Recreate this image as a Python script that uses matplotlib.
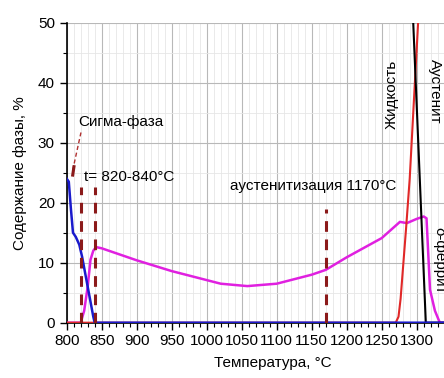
import matplotlib
matplotlib.use('Agg')
from matplotlib import pyplot as plt
from matplotlib.ticker import MultipleLocator

plt.rcParams['font.family'] = ['Liberation Sans', 'DejaVu Sans']
plt.rcParams['font.size'] = 11

# сигма-фаза
t_sigma = [800, 803, 806, 809, 813, 818, 822, 826, 830, 834, 838, 840, 1400]
sigma = [24, 23.5, 19, 15, 14.3, 13, 11, 8.5, 6, 3.5, 1, 0, 0]

# дельта-феррит
t_ferr = [800, 820, 825, 830, 834, 838, 842, 850, 875, 900, 950, 1000, 1020, 1058, 1100,
          1150, 1170, 1200, 1250, 1276, 1286, 1300, 1310, 1314, 1319, 1326, 1333, 1400]
ferr = [0, 0, 2, 6, 10.5, 12, 12.6, 12.4, 11.4, 10.4, 8.6, 7.1, 6.5, 6.1, 6.5,
        8.0, 8.8, 10.9, 14.1, 16.8, 16.6, 17.3, 17.7, 17.4, 5.5, 2, 0, 0]

# жидкость
t_liq = [800, 1270, 1274, 1277, 1281, 1285, 1290, 1296, 1302, 1310]
liq = [0, 0, 1, 4, 10, 16, 24, 37, 50, 67]

# аустенит
t_aus = [1290, 1313, 1400]
aus = [64, 0, 0]

# температуры обработки
t_marks = [820, 840, 1170]
h_marks = [22.6, 22.6, 19]

fig = plt.figure(figsize=(4.44, 3.78), dpi=100)
ax = fig.add_axes([0.1502, 0.1463, 0.946, 0.7937])

ax.plot(t_ferr, ferr, color='#e020e0', lw=1.8, zorder=3)
ax.plot(t_liq, liq, color='#e02828', lw=1.5, zorder=3)
ax.plot(t_aus, aus, color='black', lw=1.5, zorder=3)
ax.plot(t_sigma, sigma, color='#1a1acc', lw=1.8, zorder=4)

for t, h in zip(t_marks, h_marks):
    ax.plot([t, t], [0, h], color='#8b1a1a', lw=2.2, ls=(0, (3.5, 2.5)), zorder=5)

# стрелка к сигма-фазе
ax.plot([808.6, 820.4], [25.4, 31.7], color='#b03030', lw=1, ls=(0, (3, 2)))
ax.plot([808.6, 810.4], [24.6, 26.0], color='#8b1a1a', lw=2.2)

ax.text(816, 33.5, 'Сигма-фаза', fontsize=11, va='center', ha='left')
ax.text(825, 24.2, 't= 820-840°C', fontsize=11, va='center', ha='left')
ax.text(1152, 22.8, 'аустенитизация 1170°C', fontsize=11, va='center', ha='center')
ax.text(1264, 38, 'Жидкость', fontsize=11, rotation=90, va='center', ha='center')
ax.text(1326, 44, 'Аустенит', fontsize=11, rotation=-90, va='top', ha='center')
ax.text(1332, 16, 'δ-феррит', fontsize=11, rotation=-90, va='top', ha='center')

ax.set_xlim(800, 1400)
ax.set_ylim(0, 50)
ax.set_xticks(list(range(800, 1301, 50)))
ax.xaxis.set_minor_locator(MultipleLocator(10))
ax.yaxis.set_major_locator(MultipleLocator(10))
ax.yaxis.set_minor_locator(MultipleLocator(5))

ax.grid(which='major', color='#b8b8b8', lw=0.8)
ax.grid(which='minor', color='#e6e6e6', lw=0.6)
ax.set_axisbelow(True)

for s in ['top', 'right']:
    ax.spines[s].set_visible(False)
ax.spines['left'].set_linewidth(1.2)
ax.spines['bottom'].set_linewidth(1.2)
ax.tick_params(which='major', direction='out', length=5, width=1, labelsize=11)
ax.tick_params(which='minor', direction='out', length=3, width=0.8)
ax.tick_params(axis='x', pad=3)

ax.set_xlabel('Температура, °C', fontsize=11)
ax.set_ylabel('Содержание фазы, %', fontsize=11, labelpad=8)
ax.xaxis.set_label_coords(0.49, -0.11)

fig.savefig('out.png', dpi=100)
